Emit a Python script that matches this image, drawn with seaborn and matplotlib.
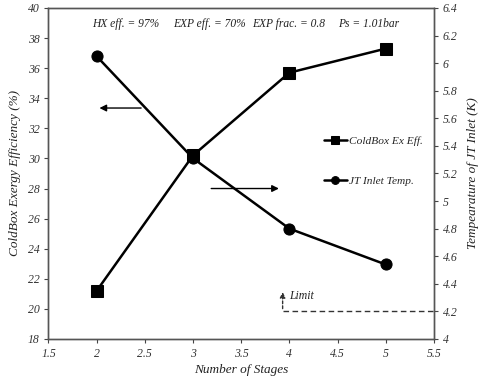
import matplotlib
matplotlib.use("Agg")
import matplotlib.pyplot as plt
import seaborn as sns
import numpy as np

# data
stages = [2, 3, 4, 5]
coldbox_eff = [21.2, 30.2, 35.7, 37.3]   # left axis (%)
jt_temp = [6.05, 5.31, 4.80, 4.54]       # right axis (K)
limit_temp = 4.2
notes = ["HX eff. = 97%", "EXP eff. = 70%", "EXP frac. = 0.8", "Ps = 1.01bar"]
note_x = [0.113, 0.323, 0.528, 0.751]

sns.set_theme(style="white")
plt.rcParams['font.family'] = ['Liberation Serif', 'DejaVu Serif']
plt.rcParams['font.style'] = 'italic'

fig = plt.figure(figsize=(4.8, 3.8), dpi=100)
ax = fig.add_axes([0.101, 0.108, 0.803, 0.871])
ax2 = ax.twinx()

sns.lineplot(x=stages, y=coldbox_eff, ax=ax, color="black", marker="s",
             markersize=9, linewidth=1.8, markeredgecolor="black",
             label="ColdBox Ex Eff.", legend=False)
sns.lineplot(x=stages, y=jt_temp, ax=ax2, color="black", marker="o",
             markersize=8, linewidth=1.8, markeredgecolor="black",
             label="JT Inlet Temp.", legend=False)

ax.set_xlim(1.5, 5.5)
ax.set_ylim(18, 40)
ax2.set_ylim(4, 6.4)
ax.set_xticks(np.arange(1.5, 5.51, 0.5))
ax.set_xticklabels(["1.5", "2", "2.5", "3", "3.5", "4", "4.5", "5", "5.5"])
ax.set_yticks(range(18, 41, 2))
rt = np.round(np.arange(4.0, 6.41, 0.2), 1)
ax2.set_yticks(rt)
ax2.set_yticklabels([f"{v:g}" for v in rt])

for a in (ax, ax2):
    a.tick_params(direction="out", length=3, width=0.8, labelsize=8.5,
                  colors="#444444", labelcolor="#333333")
    for s in a.spines.values():
        s.set_color("#555555")
        s.set_linewidth(1.0)
ax.tick_params(axis="x", bottom=True)
ax.tick_params(axis="y", left=True)
ax2.tick_params(axis="y", right=True)

ax.set_xlabel("Number of Stages", fontsize=9.5, color="#222222", labelpad=3)
ax.set_ylabel("ColdBox Exergy Efficiency (%)", fontsize=9.5, color="#222222", labelpad=5)
ax2.set_ylabel("Tempearature of JT Inlet (K)", fontsize=9.5, color="#222222", labelpad=7)

for txt, xp in zip(notes, note_x):
    ax.text(xp, 0.952, txt, transform=ax.transAxes, ha="left", va="center",
            fontsize=8.3, color="#222222")

# arrows pointing to the axes
ax.annotate("", xy=(2.0, 33.35), xytext=(2.49, 33.35),
            arrowprops=dict(arrowstyle="-|>", color="black", lw=1.0, mutation_scale=10))
ax.annotate("", xy=(3.92, 28.0), xytext=(3.16, 28.0),
            arrowprops=dict(arrowstyle="-|>", color="black", lw=1.0, mutation_scale=10))

# limit line
ax2.plot([3.93, 5.5], [limit_temp, limit_temp], color="#333333", lw=1.0, ls=(0, (4, 2.5)))
ax2.annotate("", xy=(3.93, 4.36), xytext=(3.93, limit_temp),
             arrowprops=dict(arrowstyle="-|>", color="#333333", lw=1.0,
                             ls=(0, (2, 1.5)), mutation_scale=8))
ax2.text(4.0, 4.31, "Limit", fontsize=8.5, ha="left", va="center", color="#222222")

h1, l1 = ax.get_legend_handles_labels()
h2, l2 = ax2.get_legend_handles_labels()
leg = ax2.legend(h1 + h2, l1 + l2, loc="upper left", bbox_to_anchor=(0.70, 0.629),
                 frameon=False, fontsize=8.2, handlelength=2.0, handletextpad=0.2,
                 labelspacing=2.6, borderpad=0, markerscale=0.7)

fig.savefig("out.png", dpi=100)
